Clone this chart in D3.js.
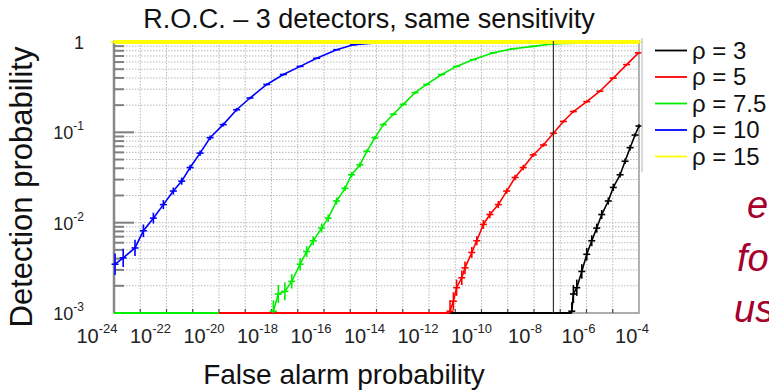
<!DOCTYPE html>
<html>
<head>
<meta charset="utf-8">
<script src="https://cdn.jsdelivr.net/npm/d3@7"></script>
<style>
  body { margin: 0; background: #fff; }
  svg { display: block; font-family: Arial, "Liberation Sans", sans-serif; }
</style>
</head>
<body>
<div id="chart"></div>
<script>
// values are log10 of the probabilities: [false alarm, detection, error (decades)]
const rho3 = [
  [-6.56, -2.98, 0.1], [-6.5, -2.79, 0.1], [-6.37, -2.72, 0.09], [-6.18, -2.54, 0.08],
  [-5.99, -2.35, 0.07], [-5.8, -2.2, 0.06], [-5.61, -2.06, 0.05], [-5.42, -1.91, 0.05],
  [-5.17, -1.76, 0.04], [-4.98, -1.61, 0.04], [-4.72, -1.47, 0.03], [-4.53, -1.32, 0.03],
  [-4.34, -1.17, 0.03], [-4.15, -1.03, 0.02], [-4.0, -0.93, 0.02]
];
const rho5 = [
  [-11.2, -2.98, 0.12], [-11.07, -2.87, 0.1], [-10.95, -2.72, 0.09], [-10.75, -2.61, 0.08],
  [-10.63, -2.5, 0.07], [-10.37, -2.33, 0.06], [-10.18, -2.2, 0.05], [-9.93, -2.02, 0.05],
  [-9.68, -1.91, 0.04], [-9.36, -1.8, 0.04], [-9.04, -1.65, 0.03], [-8.72, -1.5, 0.03],
  [-8.41, -1.39, 0.03], [-8.03, -1.25, 0.02], [-7.64, -1.14, 0.02], [-7.26, -1.01, 0.02],
  [-6.88, -0.88, 0.015], [-6.5, -0.77, 0.015], [-5.99, -0.66, 0.012], [-5.49, -0.545, 0.01],
  [-4.98, -0.4, 0.01], [-4.47, -0.25, 0.008], [-4.02, -0.12, 0.006]
];
const rho75 = [
  [-17.93, -2.98, 0.12], [-17.74, -2.79, 0.1], [-17.49, -2.76, 0.1], [-17.23, -2.65, 0.08],
  [-16.91, -2.46, 0.07], [-16.66, -2.32, 0.06], [-16.41, -2.2, 0.05], [-16.09, -2.06, 0.05],
  [-15.84, -1.95, 0.04], [-15.52, -1.76, 0.04], [-15.2, -1.62, 0.03], [-14.95, -1.47, 0.03],
  [-14.63, -1.36, 0.03], [-14.37, -1.21, 0.02], [-14.06, -1.06, 0.02], [-13.74, -0.915, 0.02],
  [-13.36, -0.8, 0.015], [-12.98, -0.69, 0.015], [-12.53, -0.56, 0.012], [-12.09, -0.47, 0.01],
  [-11.52, -0.36, 0.01], [-10.95, -0.27, 0.008], [-10.31, -0.195, 0.007], [-9.55, -0.12, 0.006],
  [-8.79, -0.074, 0.005], [-8.03, -0.048, 0.004], [-7.26, -0.02, 0.004], [-4.7, -0.003, 0.003]
];
const rho10 = [
  [-23.96, -2.46, 0.12], [-23.65, -2.39, 0.1], [-23.2, -2.28, 0.09], [-22.88, -2.09, 0.07],
  [-22.5, -1.95, 0.06], [-22.12, -1.8, 0.05], [-21.74, -1.65, 0.04], [-21.42, -1.54, 0.04],
  [-21.1, -1.39, 0.03], [-20.72, -1.23, 0.03], [-20.34, -1.06, 0.025], [-19.84, -0.915, 0.02],
  [-19.33, -0.75, 0.02], [-18.82, -0.62, 0.015], [-18.18, -0.47, 0.012], [-17.55, -0.36, 0.01],
  [-16.91, -0.27, 0.01], [-16.28, -0.18, 0.008], [-15.52, -0.085, 0.006], [-14.88, -0.03, 0.005],
  [-14.0, -0.01, 0.004], [-13.37, -0.003, 0.003]
];
const rho15 = [
  [-24, 0, 0], [-23, 0, 0], [-22, 0, 0], [-21, 0, 0], [-20, 0, 0], [-19, 0, 0], [-18, 0, 0],
  [-17, 0, 0], [-16, 0, 0], [-15, 0, 0], [-14, 0, 0], [-13, 0, 0], [-12, 0, 0], [-11, 0, 0],
  [-10, 0, 0], [-9, 0, 0], [-8, 0, 0], [-7, 0, 0], [-6, 0, 0], [-5, 0, 0], [-4, 0, 0]
];
// false alarm range where detection probability is zero (drawn on the bottom edge)
const zeroUntil = [-6.56, -11.2, -20, null, null];
const seriesNames = ['ρ = 3', 'ρ = 5', 'ρ = 7.5', 'ρ = 10', 'ρ = 15'];
const seriesColors = ['#000000', '#ff0000', '#00ee00', '#0000ff', '#ffff00'];
const seriesData = [rho3, rho5, rho75, rho10, rho15];
const thresholdX = [-7.26];

const xTicks = [-24, -22, -20, -18, -16, -14, -12, -10, -8, -6, -4];
const yTicks = [-3, -2, -1, 0];

const W = 769, H = 391;
const pLeft = 114, pRight = 639, pTop = 42, pBottom = 313;

const svg = d3.select('#chart').append('svg')
  .attr('width', W)
  .attr('height', H);

const x = d3.scaleLog().domain([1e-24, 1e-4]).range([pLeft, pRight]);
const y = d3.scaleLog().domain([1e-3, 1]).range([pBottom, pTop]);
const px = (v) => x(Math.pow(10, v));
const py = (v) => y(Math.pow(10, v));
// tick labels sit slightly left of their ticks in the original
const labelX = d3.scaleLinear().domain([-24, -4]).range([pLeft - 17, pRight - 7]);

// grid
const yMinor = y.ticks().filter(d => d < 1);
svg.append('g').selectAll('line').data(yMinor).join('line')
  .attr('x1', pLeft).attr('x2', pRight)
  .attr('y1', d => y(d)).attr('y2', d => y(d))
  .attr('stroke', '#b8b8b8').attr('stroke-dasharray', '1.5,1.5');
const xDecades = d3.range(-23, -4);
svg.append('g').selectAll('line').data(xDecades).join('line')
  .attr('x1', d => px(d)).attr('x2', d => px(d))
  .attr('y1', pTop).attr('y2', pBottom)
  .attr('stroke', '#b8b8b8').attr('stroke-dasharray', '1.5,1.5');

// frame
svg.append('rect')
  .attr('x', pLeft).attr('y', pTop - 1)
  .attr('width', pRight - pLeft).attr('height', pBottom - pTop + 1)
  .attr('fill', 'none').attr('stroke', '#999').attr('stroke-width', 1.5);
svg.append('line')
  .attr('x1', pLeft).attr('x2', pLeft).attr('y1', pTop - 1).attr('y2', pBottom)
  .attr('stroke', '#888').attr('stroke-width', 2.5);

// y axis ticks (drawn inward)
const isDecade = (d) => Math.abs(Math.log10(d) - Math.round(Math.log10(d))) < 1e-6;
svg.append('g').selectAll('line').data(yMinor).join('line')
  .attr('x1', pLeft)
  .attr('x2', d => pLeft + (isDecade(d) ? 20 : 10))
  .attr('y1', d => y(d)).attr('y2', d => y(d))
  .attr('stroke', '#808080').attr('stroke-width', 2);

// x axis ticks
svg.append('g').selectAll('line').data(xDecades).join('line')
  .attr('x1', d => px(d)).attr('x2', d => px(d))
  .attr('y1', pBottom).attr('y2', pBottom - 4)
  .attr('stroke', '#444').attr('stroke-width', 1.2);

// x tick labels
const xl = svg.append('g').selectAll('text').data(xTicks).join('text')
  .attr('x', d => labelX(d)).attr('y', 343)
  .attr('text-anchor', 'middle')
  .attr('font-size', 20).attr('fill', '#222');
xl.append('tspan').text('10');
xl.append('tspan').attr('font-size', 13).attr('dy', -10).text(d => d);

// y tick labels
svg.append('g').selectAll('text').data(yTicks).join('text')
  .attr('x', 84).attr('y', d => py(d) + 7)
  .attr('text-anchor', 'end')
  .attr('font-size', 18).attr('fill', '#222')
  .each(function (d) {
    const t = d3.select(this);
    if (d === 0) { t.text('1'); return; }
    t.append('tspan').text('10');
    t.append('tspan').attr('font-size', 12).attr('dy', -9).text(d);
  });

// series
const line = d3.line().x(d => px(d[0])).y(d => py(d[1]));
seriesData.forEach((data, i) => {
  const g = svg.append('g');
  const c = seriesColors[i];
  if (zeroUntil[i] !== null) {
    g.append('line')
      .attr('x1', pLeft).attr('x2', px(zeroUntil[i]))
      .attr('y1', pBottom).attr('y2', pBottom)
      .attr('stroke', c).attr('stroke-width', 2);
  }
  g.append('path').datum(data)
    .attr('fill', 'none').attr('stroke', c)
    .attr('stroke-width', i === 4 ? 4 : 1.6)
    .attr('d', line);
  const m = g.selectAll('g').data(data).join('g');
  m.append('line')
    .attr('x1', d => px(d[0])).attr('x2', d => px(d[0]))
    .attr('y1', d => py(Math.min(0, d[1] + d[2]))).attr('y2', d => Math.min(pBottom, py(d[1] - d[2])))
    .attr('stroke', c).attr('stroke-width', 1.6);
  m.append('line')
    .attr('x1', d => px(d[0]) - 3.5).attr('x2', d => px(d[0]) + 3.5)
    .attr('y1', d => py(d[1])).attr('y2', d => py(d[1]))
    .attr('stroke', c).attr('stroke-width', 1.6);
});

// threshold line
svg.append('g').selectAll('line').data(thresholdX).join('line')
  .attr('x1', d => px(d)).attr('x2', d => px(d))
  .attr('y1', pTop - 1).attr('y2', pBottom)
  .attr('stroke', '#333').attr('stroke-width', 1.2);

// title and axis labels
svg.append('text')
  .attr('x', 369).attr('y', 28)
  .attr('text-anchor', 'middle')
  .attr('font-size', 27).attr('fill', '#111')
  .text('R.O.C. – 3 detectors, same sensitivity');
svg.append('text')
  .attr('x', 344).attr('y', 384)
  .attr('text-anchor', 'middle')
  .attr('font-size', 28).attr('fill', '#111')
  .text('False alarm probability');
svg.append('text')
  .attr('transform', 'translate(32,187) rotate(-90)')
  .attr('text-anchor', 'middle')
  .attr('font-size', 31).attr('fill', '#111')
  .text('Detection probability');

// legend
svg.append('line')
  .attr('x1', 642).attr('x2', 642).attr('y1', 38).attr('y2', 172)
  .attr('stroke', '#ccc').attr('stroke-width', 1.5);
const lg = svg.append('g').selectAll('g').data(seriesNames).join('g')
  .attr('transform', (d, i) => 'translate(0,' + (50.5 + i * 26.5) + ')');
lg.append('line')
  .attr('x1', 655).attr('x2', 687)
  .attr('stroke', (d, i) => seriesColors[i]).attr('stroke-width', 1.8);
lg.append('text')
  .attr('x', 692).attr('y', 8)
  .attr('font-size', 24).attr('fill', '#111')
  .text(d => d);

// clipped slide text on the right
const sideText = ['e', 'fo', 'us'];
const sideX = [747, 737, 734];
const sideY = [218, 271, 322];
svg.append('g').selectAll('text').data(sideText).join('text')
  .attr('x', (d, i) => sideX[i]).attr('y', (d, i) => sideY[i])
  .attr('font-size', 38).attr('font-style', 'italic').attr('fill', '#a6002c')
  .text(d => d);
</script>
</body>
</html>
